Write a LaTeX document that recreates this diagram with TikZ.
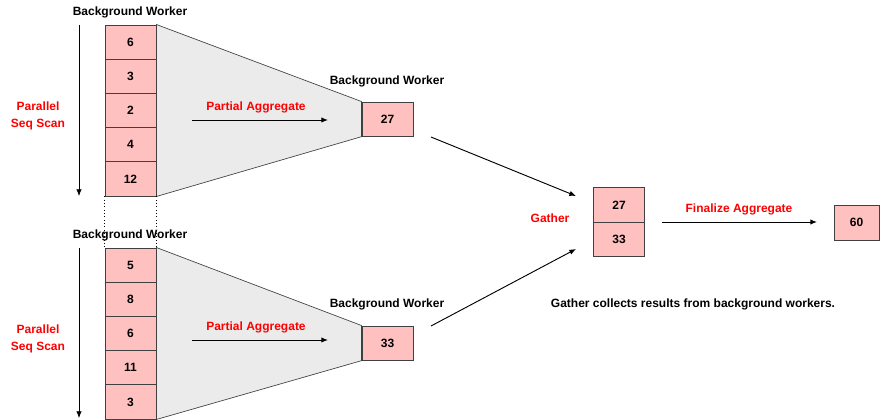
\documentclass[tikz,border=0pt]{standalone}
\usepackage{fontspec}
\setmainfont{Liberation Sans}
\usetikzlibrary{arrows.meta,backgrounds}

\definecolor{cellpink}{HTML}{FFC0C0}
\definecolor{celledge}{HTML}{404040}
\definecolor{funnelgray}{HTML}{EBEBEB}
\definecolor{labelred}{HTML}{FF0000}

\tikzset{
	cell/.style    = {rectangle,draw=celledge,fill=cellpink,inner sep=0pt,minimum width=38.25pt,minimum height=25.65pt,font=\bfseries\fontsize{9}{10.8}\selectfont},
	caption/.style = {font=\bfseries\fontsize{9}{10.8}\selectfont,inner sep=1pt},
	redlabel/.style= {caption,text=labelred,align=center},
	funnel/.style  = {draw=celledge,fill=funnelgray,line width=0.5pt},
}

\begin{document}
\begin{tikzpicture}[x=0.75pt,y=-0.75pt,>={Latex[length=5pt,width=4pt]},line width=0.7pt]
			\useasboundingbox (0,0) rectangle (882,420);

			% worker 1
			\node at (130.5, 42.1)  [cell] (t1) {6};
			\node at (130.5, 76.3)  [cell] (t2) {3};
			\node at (130.5,110.5)  [cell] (t3) {2};
			\node at (130.5,144.7)  [cell] (t4) {4};
			\node at (130.5,178.9)  [cell] (t5) {12};
			\node at (387.5,119.1)  [cell] (w1) {27};

			% worker 2
			\node at (130.5,265.1)  [cell] (b1) {5};
			\node at (130.5,299.3)  [cell] (b2) {8};
			\node at (130.5,333.5)  [cell] (b3) {6};
			\node at (130.5,367.7)  [cell] (b4) {11};
			\node at (130.5,401.9)  [cell] (b5) {3};
			\node at (387.5,343.1)  [cell] (w2) {33};

			% funnels behind the cells
			\begin{scope}[on background layer]
			\draw[funnel] (t1.north east) -- (w1.north west) -- (w1.south west) -- (t5.south east) -- cycle;
			\draw[funnel] (b1.north east) -- (w2.north west) -- (w2.south west) -- (b5.south east) -- cycle;
			\end{scope}

			% gather and result
			\node at (619,205.2)    [cell,minimum height=25.9pt] (g1) {27};
			\node at (619,239.7)    [cell,minimum height=25.9pt] (g2) {33};
			\node at (856.5,222.5)  [cell,minimum width=33.75pt,minimum height=26.25pt] (fin) {60};

			% labels
			\node at (130,12)   [caption] (lbl_t)  {Background Worker};
			\node at (387,81)   [caption] (lbl_w1) {Background Worker};
			\node at (130,235)  [caption] (lbl_b)  {Background Worker};
			\node at (387,304)  [caption] (lbl_w2) {Background Worker};
			\node at (38,116)   [redlabel] (scan1) {Parallel\\[2pt]Seq Scan};
			\node at (38,339)   [redlabel] (scan2) {Parallel\\[2pt]Seq Scan};
			\node at (256,107)  [redlabel] (part1) {Partial Aggregate};
			\node at (256,327)  [redlabel] (part2) {Partial Aggregate};
			\node at (550,218)  [redlabel] (gather) {Gather};
			\node at (739,209)  [redlabel] (final) {Finalize Aggregate};
			\node at (693,304)  [caption]  (note) {Gather collects results from background workers.};

			% arrow ends
			\coordinate (scan1_a) at (79,25);   \coordinate (scan1_b) at (79,196);
			\coordinate (scan2_a) at (79,248);  \coordinate (scan2_b) at (79,418);
			\coordinate (part1_a) at (192,120); \coordinate (part1_b) at (328,120);
			\coordinate (part2_a) at (192,340); \coordinate (part2_b) at (328,340);
			\coordinate (up_a)    at (431,137); \coordinate (up_b)    at (576,196);
			\coordinate (lo_a)    at (431,326); \coordinate (lo_b)    at (576,249);
			\coordinate (fin_a)   at (662,222); \coordinate (fin_b)   at (817,222);

			\draw[->,line width=0.5pt] (scan1_a) -- (scan1_b);
			\draw[->,line width=0.5pt] (scan2_a) -- (scan2_b);
			\draw[->] (part1_a) -- (part1_b);
			\draw[->] (part2_a) -- (part2_b);
			\draw[->] (up_a) -- (up_b);
			\draw[->] (lo_a) -- (lo_b);
			\draw[->] (fin_a) -- (fin_b);

			\draw[dotted,line width=0.5pt] (t5.south west) -- (b1.north west);
			\draw[dotted,line width=0.5pt] (t5.south east) -- (b1.north east);
		\end{tikzpicture}
\end{document}
